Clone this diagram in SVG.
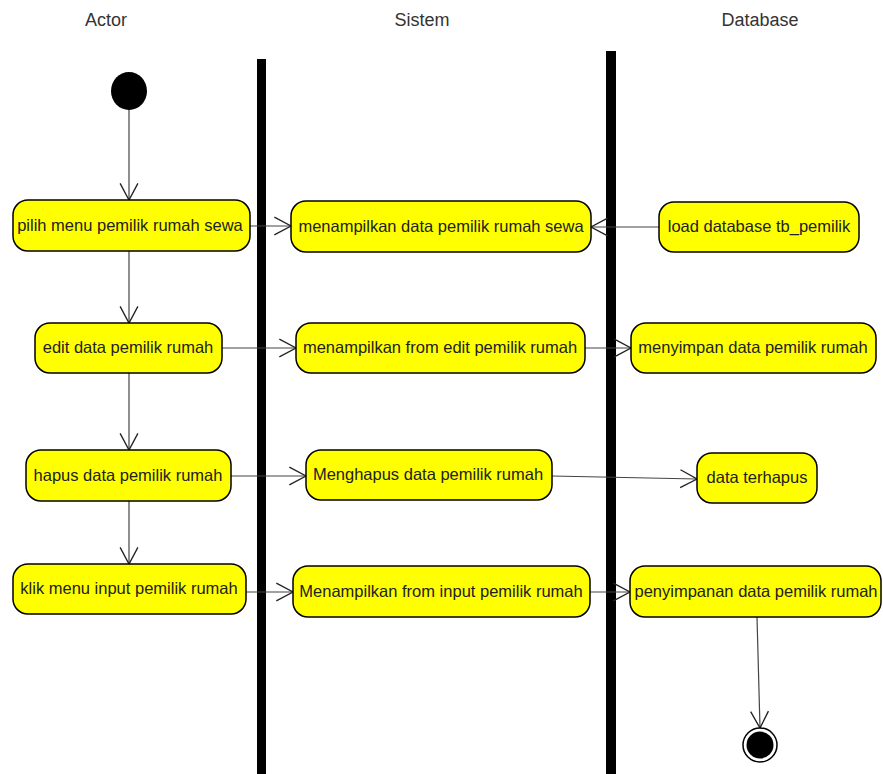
<svg xmlns="http://www.w3.org/2000/svg" width="883" height="774" viewBox="0 0 883 774">
  <style>
    .lane { font-family: "Liberation Sans", Arial, sans-serif; font-size: 18px; fill: #333; text-anchor: middle; }
    .act rect { fill: #ffff00; stroke: #000; stroke-width: 1.5; }
    .act text { font-family: "Liberation Sans", Arial, sans-serif; font-size: 16.5px; fill: #222; text-anchor: middle; }
    .conn line { stroke: #444; stroke-width: 1.2; fill: none; marker-end: url(#open); }
    .bar { fill: #000; }
  </style>
  <defs>
    <marker id="open" markerUnits="userSpaceOnUse" markerWidth="20" markerHeight="20" viewBox="-16 -9 18 18" refX="0" refY="0" orient="auto">
      <path d="M-15,-8 L0,0 L-15,8" fill="none" stroke="#222" stroke-width="1.2"/>
    </marker>
  </defs>
  <rect width="883" height="774" fill="#fff"/>

  <!-- swimlane headers -->
  <text class="lane" x="106" y="26">Actor</text>
  <text class="lane" x="422" y="26">Sistem</text>
  <text class="lane" x="760" y="26">Database</text>

  <!-- swimlane separators -->
  <rect class="bar" x="257" y="59" width="9" height="715"/>
  <rect class="bar" x="606" y="51" width="10" height="723"/>

  <!-- connectors -->
  <g id="connectors" class="conn">
    <line x1="129" y1="109" x2="129" y2="200"/>
    <line x1="129" y1="251" x2="129" y2="323"/>
    <line x1="129" y1="373" x2="129" y2="450"/>
    <line x1="129" y1="501" x2="129" y2="564"/>
    <line x1="250" y1="226" x2="291" y2="226"/>
    <line x1="659" y1="227" x2="591" y2="227"/>
    <line x1="222" y1="348" x2="296" y2="348"/>
    <line x1="585" y1="348" x2="631" y2="348"/>
    <line x1="231" y1="476" x2="306" y2="476"/>
    <line x1="552" y1="476" x2="697" y2="479"/>
    <line x1="237" y1="592" x2="293" y2="592"/>
    <line x1="590" y1="592" x2="630" y2="592"/>
    <line x1="757" y1="617" x2="760" y2="728"/>
  </g>

  <!-- start / end -->
  <g id="start"><ellipse cx="129" cy="91" rx="18" ry="19" fill="#000"/></g>
  <g id="end">
    <circle cx="760" cy="745" r="17" fill="#fff" stroke="#000" stroke-width="1.5"/>
    <circle cx="760" cy="745" r="13.5" fill="#000"/>
  </g>

  <!-- activities -->
  <g id="pilih-menu" class="act"><rect x="13" y="200" width="237" height="51" rx="15"/><text x="130" y="231">pilih menu pemilik rumah sewa</text></g>
  <g id="tampil-data" class="act"><rect x="291" y="201" width="300" height="51" rx="15"/><text x="441" y="232">menampilkan data pemilik rumah sewa</text></g>
  <g id="load-db" class="act"><rect x="659" y="202" width="200" height="50" rx="15"/><text x="759" y="232">load database tb_pemilik</text></g>

  <g id="edit-data" class="act"><rect x="35" y="323" width="187" height="50" rx="15"/><text x="128" y="353">edit data pemilik rumah</text></g>
  <g id="form-edit" class="act"><rect x="296" y="323" width="289" height="50" rx="15"/><text x="440" y="353">menampilkan from edit pemilik rumah</text></g>
  <g id="simpan-data" class="act"><rect x="631" y="323" width="245" height="50" rx="15"/><text x="753" y="353">menyimpan data pemilik rumah</text></g>

  <g id="hapus-data" class="act"><rect x="26" y="450" width="205" height="51" rx="15"/><text x="128" y="481">hapus data pemilik rumah</text></g>
  <g id="menghapus" class="act"><rect x="306" y="450" width="246" height="50" rx="15"/><text x="428" y="480">Menghapus data pemilik rumah</text></g>
  <g id="terhapus" class="act"><rect x="697" y="453" width="120" height="50" rx="15"/><text x="757" y="483">data terhapus</text></g>

  <g id="klik-input" class="act"><rect x="13" y="564" width="233" height="50" rx="15"/><text x="129" y="594">klik menu input pemilik rumah</text></g>
  <g id="form-input" class="act"><rect x="293" y="566" width="297" height="51" rx="15"/><text x="441" y="597">Menampilkan from input pemilik rumah</text></g>
  <g id="penyimpanan" class="act"><rect x="630" y="566" width="251" height="51" rx="15"/><text x="756" y="597">penyimpanan data pemilik rumah</text></g>
</svg>
